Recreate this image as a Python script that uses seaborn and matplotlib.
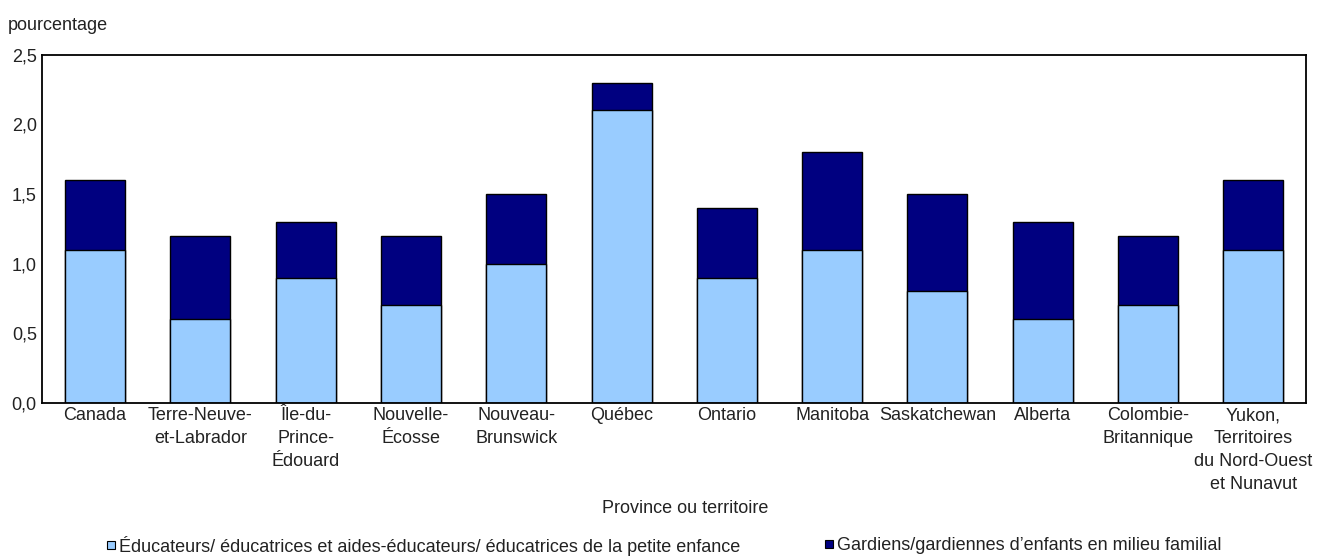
import matplotlib
matplotlib.use("Agg")
import matplotlib.pyplot as plt
from matplotlib.lines import Line2D
from matplotlib.ticker import FuncFormatter, FixedLocator
import numpy as np
import pandas as pd
import seaborn as sns

# data
provinces = ["Canada", "Terre-Neuve-\net-Labrador", "Île-du-\nPrince-\nÉdouard",
             "Nouvelle-\nÉcosse", "Nouveau-\nBrunswick", "Québec", "Ontario",
             "Manitoba", "Saskatchewan", "Alberta", "Colombie-\nBritannique",
             "Yukon,\nTerritoires\ndu Nord-Ouest\net Nunavut"]
educateurs = [1.1, 0.6, 0.9, 0.7, 1.0, 2.1, 0.9, 1.1, 0.8, 0.6, 0.7, 1.1]
gardiens = [0.5, 0.6, 0.4, 0.5, 0.5, 0.2, 0.5, 0.7, 0.7, 0.7, 0.5, 0.5]
series_labels = ["Éducateurs/ éducatrices et aides-éducateurs/ éducatrices de la petite enfance",
                 "Gardiens/gardiennes d\u2019enfants en milieu familial"]
light_blue = "#99CCFF"
navy = "#000080"

df = pd.DataFrame({"prov": provinces, "edu": educateurs, "gard": gardiens})
df["total"] = df["edu"] + df["gard"]

sns.set_style("white")
plt.rcParams['font.family'] = ['Liberation Sans', 'DejaVu Sans']
plt.rcParams['text.color'] = '#222222'
fs = 13

fig = plt.figure(figsize=(13.25, 5.58), dpi=100)
ax = fig.add_axes([0.032, 0.278, 0.9537, 0.624])

# stacked bars: total first (navy), then bottom part (light blue) over it
sns.barplot(data=df, x="prov", y="total", order=provinces, color=navy,
            width=0.57, edgecolor="black", linewidth=1.0, saturation=1, ax=ax)
sns.barplot(data=df, x="prov", y="edu", order=provinces, color=light_blue,
            width=0.57, edgecolor="black", linewidth=1.0, saturation=1, ax=ax)

ax.set_ylim(0, 2.5)
ax.set_xlim(-0.5, len(provinces) - 0.5)
ax.set_yticks(np.arange(0, 2.51, 0.5))
ax.yaxis.set_major_formatter(FuncFormatter(lambda v, p: ("%.1f" % v).replace(".", ",")))
ax.tick_params(axis="y", labelsize=fs, length=0, pad=4, labelcolor="#222222")
ax.tick_params(axis="x", which="major", labelsize=fs, length=0, pad=3, labelcolor="#222222")
for t in ax.get_xticklabels():
    t.set_linespacing(1.45)
ax.xaxis.set_minor_locator(FixedLocator(np.arange(0.5, len(provinces) - 1, 1)))
ax.tick_params(axis="x", which="minor", direction="in", length=5, width=1, color="black")
ax.set_xlabel("")
ax.set_ylabel("")
for s in ax.spines.values():
    s.set_color("black")
    s.set_linewidth(1.3)
    s.set_visible(True)

fig.text(0.006, 0.955, "pourcentage", fontsize=fs, ha="left", va="center")
fig.text(0.517, 0.089, "Province ou territoire", fontsize=fs, ha="center", va="center")

colors = [light_blue, navy]
anchors = [0.080, 0.622]
for lab, col, xa in zip(series_labels, colors, anchors):
    h = Line2D([], [], marker="s", linestyle="none", markersize=5.5,
               markerfacecolor=col, markeredgecolor="black", markeredgewidth=0.8)
    fig.legend([h], [lab], loc="center left", bbox_to_anchor=(xa, 0.022),
               frameon=False, fontsize=fs, handlelength=0.5, handletextpad=0.2,
               borderpad=0, borderaxespad=0)

fig.savefig("out.png", dpi=100)
